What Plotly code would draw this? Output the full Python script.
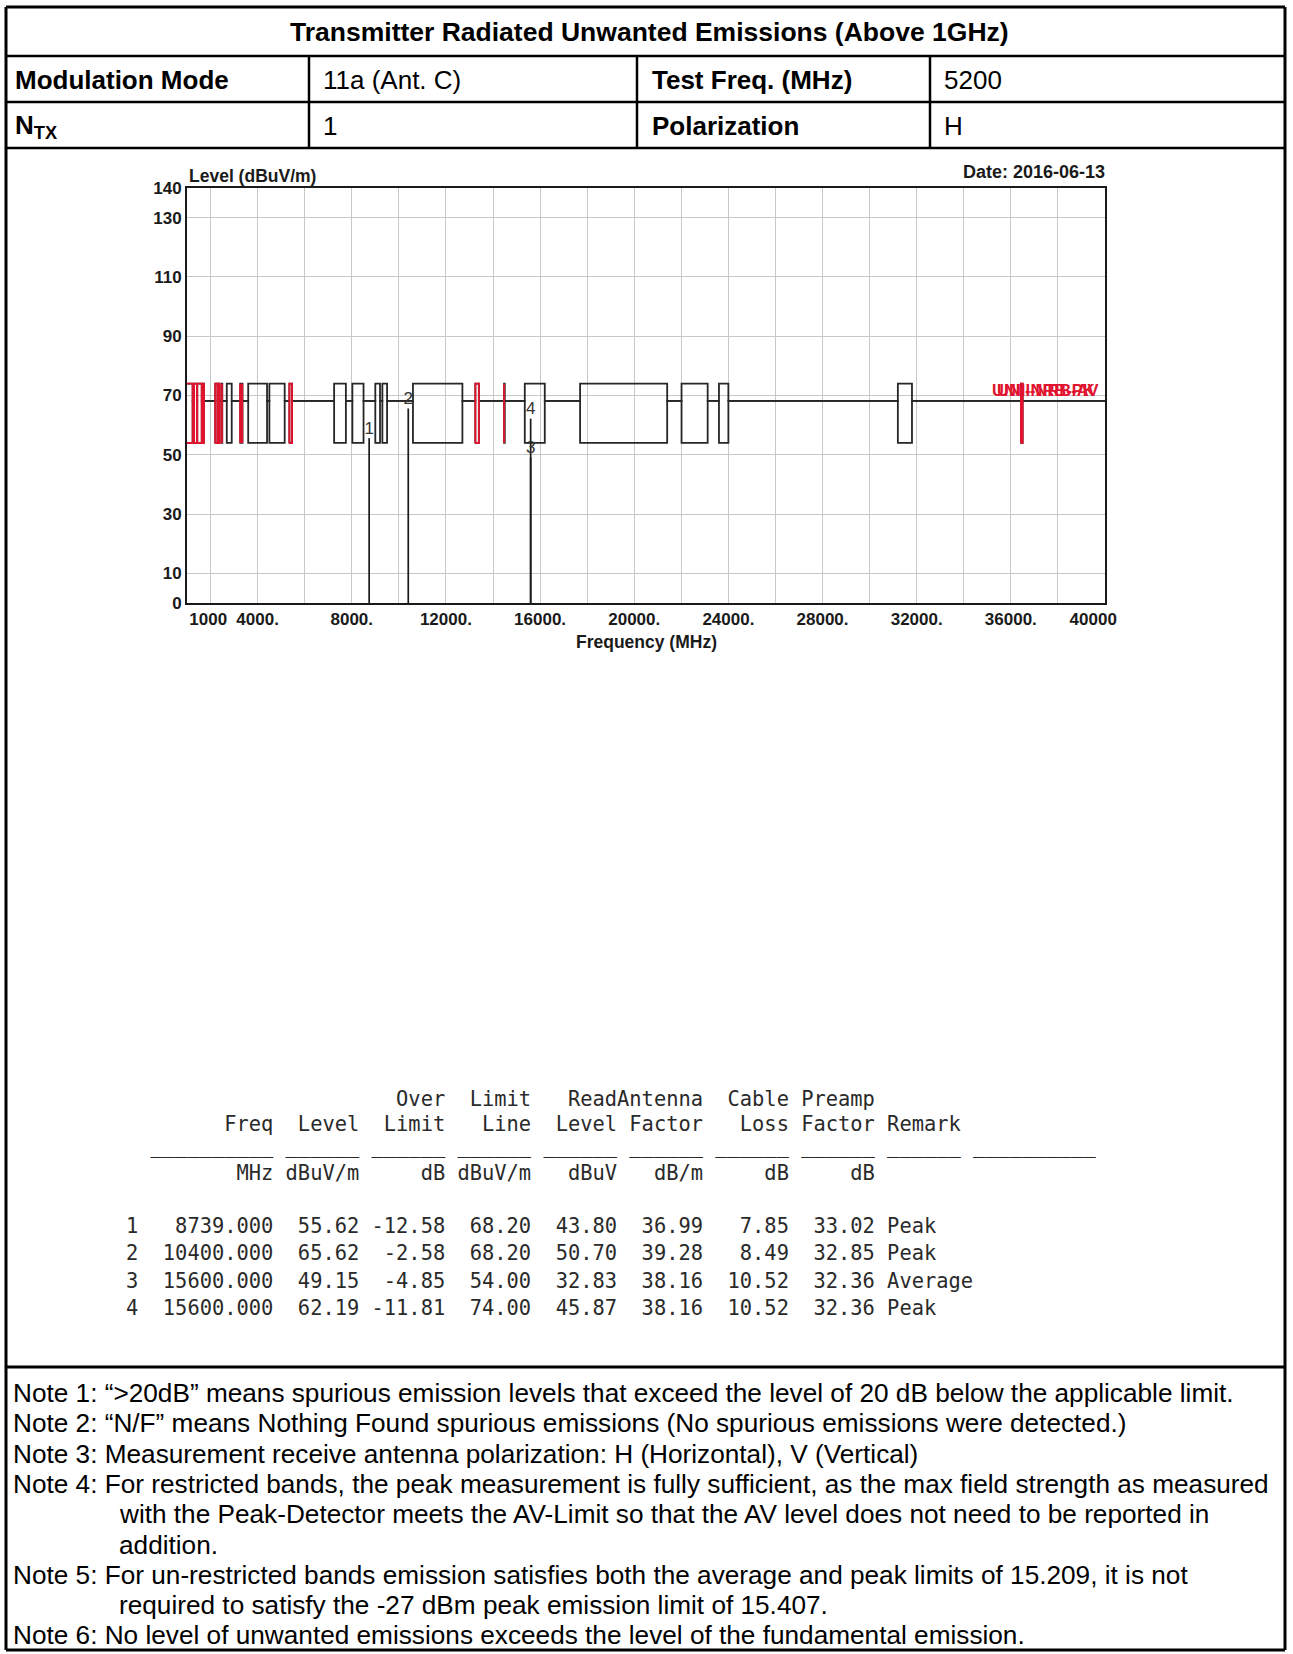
import plotly.graph_objects as go

W, H = 1293, 1654

# ---------------- data ----------------
title_text = "Transmitter Radiated Unwanted Emissions (Above 1GHz)"
row2_cells = ["Modulation Mode", "11a (Ant. C)", "Test Freq. (MHz)", "5200"]
row3_cells = ["N<sub>TX</sub>", "1", "Polarization", "H"]

freq_min, freq_max = 1000, 40000
x_tick_vals = [1000, 4000, 8000, 12000, 16000, 20000, 24000, 28000, 32000, 36000, 40000]
x_tick_text = ["1000", "4000.", "8000.", "12000.", "16000.", "20000.", "24000.",
               "28000.", "32000.", "36000.", "40000"]
y_tick_vals = [0, 10, 30, 50, 70, 90, 110, 130, 140]

unii_limit = 68.2
peak_limit = 74.0
avg_limit = 54.0

band_start = [960, 1300, 1435, 1645.5, 1660, 1718.8, 2200, 2310, 2483.5, 2690, 3260, 3332,
              3345.8, 3600, 4500, 5350, 7250, 8025, 9000, 9300, 10600, 13250, 14470, 15350,
              17700, 22010, 23600, 31200, 36430]
band_stop = [1240, 1427, 1626.5, 1646.5, 1710, 1722.2, 2300, 2390, 2500, 2900, 3267, 3339,
             3358, 4400, 5150, 5460, 7750, 8500, 9200, 9500, 12700, 13400, 14500, 16200,
             21400, 23120, 24000, 31800, 36500]
red_band_start = [960, 1300, 1435, 1645.5, 1660, 1718.8, 2200, 2310, 2483.5, 3260, 3332,
                  3345.8, 5350, 13250, 14470, 36430]
red_band_stop = [1240, 1427, 1626.5, 1646.5, 1710, 1722.2, 2300, 2390, 2500, 3267, 3339,
                 3358, 5460, 13400, 14500, 36500]

marker_no = [1, 2, 3, 4]
marker_freq = [8739.000, 10400.000, 15600.000, 15600.000]
marker_level = [55.62, 65.62, 49.15, 62.19]
over_limit = [-12.58, -2.58, -4.85, -11.81]
limit_line = [68.20, 68.20, 54.00, 74.00]
read_level = [43.80, 50.70, 32.83, 45.87]
antenna_factor = [36.99, 39.28, 38.16, 38.16]
cable_loss = [7.85, 8.49, 10.52, 10.52]
preamp_factor = [33.02, 32.85, 32.36, 32.36]
remark = ["Peak", "Peak", "Average", "Peak"]

notes = [
    ("Note 1: ", "\u201c>20dB\u201d means spurious emission levels that exceed the level of 20 dB below the applicable limit."),
    ("Note 2: ", "\u201cN/F\u201d means Nothing Found spurious emissions (No spurious emissions were detected.)"),
    ("Note 3: ", "Measurement receive antenna polarization: H (Horizontal), V (Vertical)"),
    ("Note 4: ", "For restricted bands, the peak measurement is fully sufficient, as the max field strength as measured"),
    ("", "with the Peak-Detector meets the AV-Limit so that the AV level does not need to be reported in"),
    ("", "addition."),
    ("Note 5: ", "For un-restricted bands emission satisfies both the average and peak limits of 15.209, it is not"),
    ("", "required to satisfy the -27 dBm peak emission limit of 15.407."),
    ("Note 6: ", "No level of unwanted emissions exceeds the level of the fundamental emission."),
]

# ---------------- helpers ----------------
def px(x):
    return x / W


def py(y):
    return 1 - y / H


FONT = "Liberation Sans, Arial, Helvetica, sans-serif"
MONO = "DejaVu Sans Mono, Liberation Mono, monospace"
INK = "#1a1a1a"
RED = "#e0142f"


def step_limit(in_band):
    xs, ys = [], []
    if band_start[0] > freq_min:
        xs.append(freq_min)
        ys.append(unii_limit)
    for a, b in zip(band_start, band_stop):
        xs.append(max(a, freq_min))
        ys.append(in_band)
        xs.append(b)
        ys.append(unii_limit)
    xs.append(freq_max)
    ys.append(unii_limit)
    return xs, ys


fig = go.Figure()

for lim in (peak_limit, avg_limit):
    lx, ly = step_limit(lim)
    fig.add_trace(go.Scatter(x=lx, y=ly, mode="lines", line=dict(color="#262626", width=1.8, shape="hv"),
                             hoverinfo="skip", showlegend=False))

rx, ry = [], []
for a, b in zip(red_band_start, red_band_stop):
    rx += [a, a, b, b, a, None]
    ry += [avg_limit, peak_limit, peak_limit, avg_limit, avg_limit, None]
fig.add_trace(go.Scatter(x=rx, y=ry, mode="lines", line=dict(color=RED, width=1.9),
                         hoverinfo="skip", showlegend=False))

mx, my = [], []
for f, lv in zip(marker_freq, marker_level):
    mx += [f, f, None]
    my += [0, lv, None]
fig.add_trace(go.Scatter(x=mx, y=my, mode="lines", line=dict(color="#1a1a1a", width=1.7),
                         hoverinfo="skip", showlegend=False))
fig.add_trace(go.Scatter(x=marker_freq, y=marker_level, mode="text",
                         text=[str(n) for n in marker_no], textposition="top center",
                         textfont=dict(family=FONT, size=17, color="#333333"),
                         hoverinfo="skip", showlegend=False))

tt = list(x_tick_text)
tt[0] = "\u00a0" * 9 + tt[0]
tt[-1] = tt[-1] + "\u00a0" * 5
tt = ["<b>%s</b>" % t for t in tt]

fig.update_xaxes(domain=[px(187), px(1105)], range=[freq_min, freq_max], automargin=False,
                 tickmode="array", tickvals=x_tick_vals, ticktext=tt,
                 showgrid=True, gridcolor="#c8c8c8", gridwidth=1,
                 minor=dict(tick0=0, dtick=2000, showgrid=True, gridcolor="#c8c8c8", gridwidth=1),
                 zeroline=False, showline=True, linecolor="#1a1a1a", linewidth=2, mirror=True,
                 ticks="", tickfont=dict(family=FONT, size=17, color=INK))
fig.update_yaxes(domain=[py(603), py(188)], range=[0, 140], automargin=False,
                 tickmode="array", tickvals=y_tick_vals,
                 ticktext=["<b>%d</b>" % v for v in y_tick_vals],
                 showgrid=True, gridcolor="#c8c8c8", gridwidth=1,
                 zeroline=False, showline=True, linecolor="#1a1a1a", linewidth=2, mirror=True,
                 ticks="", tickfont=dict(family=FONT, size=17, color=INK))

ann = []


def text(x, y, s, size, bold=False, anchor="left", family=FONT, color="#000000"):
    ann.append(dict(x=px(x), y=py(y), xref="paper", yref="paper", xanchor=anchor, yanchor="middle",
                    showarrow=False, text=("<b>%s</b>" % s) if bold else s,
                    font=dict(family=family, size=size, color=color)))


# header table
text(649, 32, title_text, 26.5, bold=True, anchor="center")
cell_x = [13, 321, 650, 942]
for i, s in enumerate(row2_cells):
    text(cell_x[i], 80, s, 26, bold=(i % 2 == 0))
for i, s in enumerate(row3_cells):
    text(cell_x[i], 126, s, 26, bold=(i % 2 == 0))

# chart labels
text(187, 176, "Level (dBuV/m)", 17.5, bold=True, color=INK)
text(1107, 172, "Date: 2016-06-13", 18, bold=True, anchor="right", color=INK)
text(646, 642, "Frequency (MHz)", 17.5, bold=True, anchor="center", color=INK)
ann.append(dict(x=freq_max, y=unii_limit, xref="x", yref="y", xanchor="right", yanchor="bottom",
                xshift=-8, yshift=0, showarrow=False, text="<b>UNII-NRB-PK</b>",
                font=dict(family=FONT, size=16.5, color=RED)))
ann.append(dict(x=freq_max, y=unii_limit, xref="x", yref="y", xanchor="right", yanchor="bottom",
                xshift=-5, yshift=0, showarrow=False, text="<b>UNII-NRB-AV</b>",
                font=dict(family=FONT, size=16.5, color=RED)))

# data table (monospace)
NB = "\u00a0"


def mono(s):
    return s.replace(" ", NB)


hdr1 = "%1s%11s%7s%7s%7s%7s%7s%7s%7s" % ("", "", "", "Over", "Limit", "Read", "Antenna", "Cable", "Preamp")
hdr2 = "%1s%11s%7s%7s%7s%7s%7s%7s%7s %s" % ("", "Freq", "Level", "Limit", "Line", "Level", "Factor",
                                           "Loss", "Factor", "Remark")
unders = "  " + "_" * 10 + (" " + "_" * 6) * 8 + " " + "_" * 10
units = "%1s%11s%7s%7s%7s%7s%7s%7s%7s" % ("", "MHz", "dBuV/m", "dB", "dBuV/m", "dBuV", "dB/m", "dB", "dB")
rows = []
for i in range(len(marker_no)):
    rows.append("%d%11.3f%7.2f%7.2f%7.2f%7.2f%7.2f%7.2f%7.2f %s" % (
        marker_no[i], marker_freq[i], marker_level[i], over_limit[i], limit_line[i], read_level[i],
        antenna_factor[i], cable_loss[i], preamp_factor[i], remark[i]))

TX = 124
MS = 20.4
MC = "#2a2a2a"
text(TX, 1099, mono(hdr1), MS, family=MONO, color=MC)
text(TX, 1124, mono(hdr2), MS, family=MONO, color=MC)
text(TX, 1146, mono(unders), MS, family=MONO, color=MC)
text(TX, 1173, mono(units), MS, family=MONO, color=MC)
for k, r in enumerate(rows):
    text(TX, 1226 + 27.4 * k, mono(r), MS, family=MONO, color=MC)

# notes
for k, (lab, body) in enumerate(notes):
    y = 1393 + 30.3 * k
    if lab:
        text(11, y, lab + body, 26.2)
    else:
        text(117, y, body, 26.2)

# borders
shapes = []


def hline(x0, x1, y, w=2.5):
    shapes.append(dict(type="line", xref="paper", yref="paper", x0=px(x0), x1=px(x1), y0=py(y), y1=py(y),
                       line=dict(color="#000000", width=w)))


def vline(x, y0, y1, w=2.5):
    shapes.append(dict(type="line", xref="paper", yref="paper", x0=px(x), x1=px(x), y0=py(y0), y1=py(y1),
                       line=dict(color="#000000", width=w)))


L, R, T, B = 6, 1285, 7, 1650
hline(L, R, T, 3)
hline(L, R, B, 3)
vline(L, T, B, 3)
vline(R, T, B, 3)
hline(L, R, 56)
hline(L, R, 102)
hline(L, R, 148)
hline(L, R, 1367, 3)
for cx in (309, 637, 930):
    vline(cx, 56, 148)

fig.update_layout(template="none", width=W, height=H, autosize=False,
                  margin=dict(l=0, r=0, t=0, b=0, pad=0, autoexpand=False),
                  paper_bgcolor="white", plot_bgcolor="white", showlegend=False,
                  annotations=ann, shapes=shapes)

fig.write_html("out.html",
               config={"displayModeBar": False, "staticPlot": True},
               post_script="document.documentElement.style.margin='0';"
                           "document.body.style.margin='0';document.body.style.padding='0';"
                           "document.body.style.overflow='hidden';")
